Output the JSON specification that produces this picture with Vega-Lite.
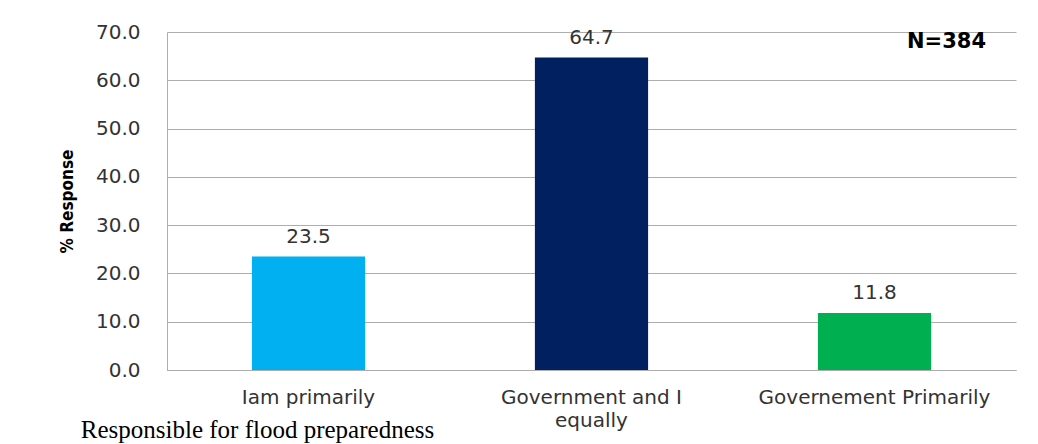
{
  "$schema": "https://vega.github.io/schema/vega-lite/v6.json",
  "width": 849,
  "height": 338,
  "autosize": "none",
  "padding": {"left": 167, "top": 32, "right": 22, "bottom": 74},
  "background": "white",
  "config": {"view": {"stroke": null}},
  "data": {
    "values": [
      {"category": "Iam primarily", "pct": 23.5},
      {"category": "Government and I equally", "pct": 64.7},
      {"category": "Governement Primarily", "pct": 11.8}
    ]
  },
  "layer": [
    {
      "mark": {"type": "bar"},
      "encoding": {
        "x": {
          "field": "category",
          "type": "nominal",
          "sort": null,
          "scale": {"paddingInner": 0.6, "paddingOuter": 0.3},
          "axis": {
            "labelAngle": 0,
            "ticks": false,
            "domainColor": "#ADADAD",
            "labelFont": "DejaVu Sans",
            "labelFontSize": 20,
            "labelColor": "#333333",
            "labelPadding": 17,
            "labelLineHeight": 23,
            "labelLimit": 0,
            "labelExpr": "datum.label == 'Government and I equally' ? ['Government and I', 'equally'] : datum.label",
            "title": "Responsible for flood preparedness",
            "titleFont": "Liberation Serif",
            "titleFontSize": 25,
            "titleFontWeight": "normal",
            "titleColor": "black",
            "titleLimit": 0,
            "titleX": 90,
            "titleY": 67,
            "titleAlign": "center",
            "titleBaseline": "alphabetic"
          }
        },
        "y": {
          "field": "pct",
          "type": "quantitative",
          "scale": {"domain": [0, 70]},
          "axis": {
            "values": [0, 10, 20, 30, 40, 50, 60, 70],
            "format": ".1f",
            "grid": true,
            "gridColor": "#ADADAD",
            "domainColor": "#ADADAD",
            "ticks": false,
            "labelFont": "DejaVu Sans",
            "labelFontSize": 20,
            "labelColor": "#333333",
            "labelPadding": 27,
            "title": "% Response",
            "titleFont": "DejaVu Sans Condensed, Liberation Sans",
            "titleFontSize": 17,
            "titleFontWeight": "bold",
            "titleColor": "black",
            "titleAngle": -90,
            "titleX": -100,
            "titleY": 169,
            "titleAlign": "center",
            "titleBaseline": "middle"
          }
        },
        "color": {
          "field": "category",
          "type": "nominal",
          "scale": {
            "domain": ["Iam primarily", "Government and I equally", "Governement Primarily"],
            "range": ["#00B0F0", "#002060", "#00B050"]
          },
          "legend": null
        }
      }
    },
    {
      "mark": {"type": "text", "baseline": "alphabetic", "dy": -14, "font": "DejaVu Sans", "fontSize": 20, "color": "#333333"},
      "encoding": {
        "x": {"field": "category", "type": "nominal", "sort": null},
        "y": {"field": "pct", "type": "quantitative"},
        "text": {"field": "pct", "type": "quantitative", "format": ".1f"}
      }
    },
    {
      "data": {"values": [{"note": "N=384"}]},
      "mark": {"type": "text", "font": "DejaVu Sans", "fontWeight": "bold", "fontSize": 21, "dx": 72, "baseline": "middle", "color": "black"},
      "encoding": {
        "x": {"datum": "Governement Primarily"},
        "y": {"datum": 68},
        "text": {"field": "note"}
      }
    }
  ]
}
